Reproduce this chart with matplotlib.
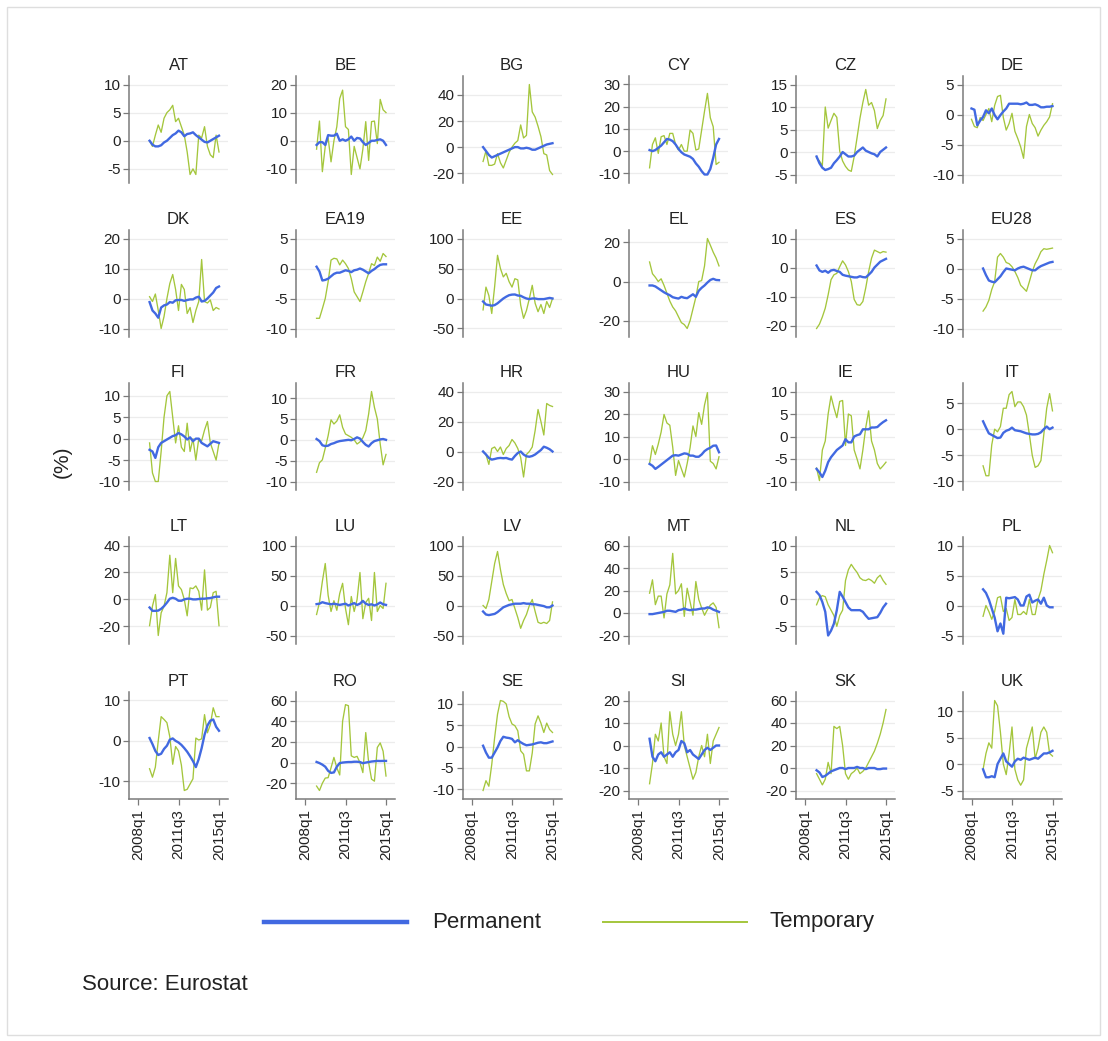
import matplotlib
matplotlib.use("Agg")
import matplotlib.pyplot as plt
from matplotlib.lines import Line2D
from matplotlib.patches import Rectangle
import numpy as np

plt.rcParams['font.family'] = ['Liberation Sans', 'DejaVu Sans']

# ---------------------------------------------------------------------------
# Year-on-year employment growth (%), permanent vs temporary contracts.
# Quarterly values, 2009q1-2015q1 (DE from 2008q1).
# ---------------------------------------------------------------------------
countries = ["AT", "BE", "BG", "CY", "CZ", "DE",
             "DK", "EA19", "EE", "EL", "ES", "EU28",
             "FI", "FR", "HR", "HU", "IE", "IT",
             "LT", "LU", "LV", "MT", "NL", "PL",
             "PT", "RO", "SE", "SI", "SK", "UK"]

x_tick_labels = ["2008q1", "2011q3", "2015q1"]

AT_perm = [0, -0.7, -1, -1, -0.8, -0.3, 0, 0.5, 1, 1.3, 1.8, 1.5, 0.8, 1.2, 1.3, 1.5, 1, 0.6, 0.2, -0.2, -0.3, 0, 0.3, 0.6, 0.9]
AT_temp = [0, -1, 1, 2.8, 1.5, 4, 5, 5.5, 6.3, 3.4, 4, 2.5, 1, -2, -6, -5, -6, 1, 0.5, 2.5, -1, -2.5, -3, 1, -2]
BE_perm = [-1.5, -0.5, -0.5, -1.5, 2, 1.8, 1.8, 2.5, 0, 0.5, 0, 0.5, 1.5, 0, 1, 0.8, -0.5, -1.5, -0.8, 0, 0, 0.3, 0.5, 0, -1.5]
BE_temp = [-3, 7, -11, -2, 1, -7.5, 0, 5, 15, 18, 5, 4, -12, -2, -6, -10, -3, 6.8, -7, 6.8, 7, -1, 14.7, 11, 10]
BG_perm = [0, -3, -6, -8, -7, -6, -5, -4, -3, -2, -1, 0, 0, -1, -1, -0.5, -1, -2, -2, -1, 0, 1, 2, 2.5, 3]
BG_temp = [-11, -3, -14, -14, -13, -5, -12, -16, -10, -4, 0, 3, 5, 17, 7, 9, 48, 27, 23, 16, 8, -5, -6, -18, -21]
CY_perm = [0.5, 0, 0.5, 1.5, 2.5, 4, 5.5, 5.2, 4.5, 3, 1, -0.5, -1.5, -2, -2.5, -3.5, -5.5, -7, -9, -10.5, -10.5, -8, -3, 3, 5.5]
CY_temp = [-7.5, 3, 6, -1, 6.5, 7, 3, 8, 8, 3, 0.5, 3, 0, 0, 9.5, 8, 0.5, 1, 9.5, 18, 26, 15, 11, -6, -5]
CZ_perm = [-1, -2.5, -3.5, -4, -3.8, -3.5, -2.5, -1.8, -1, 0, -0.5, -1, -1, -0.8, 0, 0.5, 1, 0.3, 0, -0.3, -0.5, -1, 0, 0.5, 1]
CZ_temp = [-1.3, -2, -3, 10, 5.3, 7, 8.6, 7.7, 0.2, -2, -3.2, -4, -4.3, -1, 3.2, 7.5, 11, 13.9, 10.4, 11, 9.2, 5.2, 7, 8.1, 11.8]
DE_perm = [1, 0.8, -1.8, -1, -0.4, 0.7, 0.2, 1, -0.1, -0.8, -0.1, 0.5, 1, 1.8, 1.8, 1.8, 1.8, 1.7, 1.8, 2, 1.6, 1.6, 1.7, 1.5, 1.2, 1.2, 1.3, 1.3, 1.4]
DE_temp = [-0.8, -2, -2.2, -0.5, -1, 0, 1, -1.2, 1.5, 3, 3.2, -0.5, -2.6, -1.5, 0.2, -2.8, -4, -5.4, -7.3, -2, 0, -1.5, -2.2, -3.6, -2.6, -1.8, -1.2, -0.4, 1.8]
DK_perm = [-1.2, -4, -5, -6.4, -3, -2.3, -2, -1.2, -1.4, -0.6, -0.5, -0.5, -0.8, -0.5, -0.3, -0.3, 0.3, 0.6, -1, -0.8, 0, 1, 2, 3.5, 4]
DK_temp = [0.6, -1, 1.5, -4, -10, -6, 0, 5, 8, 3, -4, 4.7, 3, -5, -3, -8, -4, -1, 13, -1, -1.5, -0.5, -4, -3, -3.5]
EA19_perm = [0.3, -0.5, -2, -1.9, -1.7, -1.3, -0.9, -0.7, -0.7, -0.5, -0.3, -0.4, -0.6, -0.3, -0.2, 0, -0.2, -0.5, -0.8, -0.4, -0.1, 0.3, 0.6, 0.7, 0.7]
EA19_temp = [-8.3, -8.3, -6.7, -5, -2.2, 1.4, 1.7, 1.6, 0.6, 1.4, 0.8, 0, -1.7, -3.9, -4.7, -5.5, -3.9, -2.2, -0.8, 0.8, 0.5, 1.9, 1.2, 2.5, 2]
EE_perm = [-5, -10, -11, -12, -11, -8, -4, 0, 3, 5.5, 6.5, 6.7, 5, 4.5, 2, 0, -1, 0, 0, -1, -1, -1, 0, 1, 0]
EE_temp = [-19, 19, 5, -25, 20, 72, 50, 36, 42, 28, 19, 33, 31, -11, -33, -20, 0, 22, -8, -22, -10, -25, -5, -15, 0]
EL_perm = [-2, -2, -2.5, -3.5, -4.5, -5.5, -6.3, -7, -8, -8.4, -8.7, -7.8, -8.3, -8.5, -7.5, -6.5, -7.8, -4.7, -3.2, -2, -0.5, 0.8, 1.4, 0.8, 0.7]
EL_temp = [10, 4, 2.2, 0, 1.4, -2, -6, -10, -13, -15, -18, -21, -22, -24, -20, -14, -8, 0, 0.5, 8, 22, 18.6, 15, 12, 8]
ES_perm = [0.7, -1, -1.5, -1.1, -1.8, -1, -0.8, -1.2, -1.5, -2.5, -2.8, -3, -3.2, -3.4, -3.4, -3, -3.3, -3.4, -2.5, -1.5, 0, 1, 2, 2.5, 3]
ES_temp = [-21, -19.5, -17, -14, -9.4, -4.2, -2.5, -2, 0.3, 2.3, 0.9, -1.4, -4.8, -11, -12.8, -13, -11.7, -7, -1.4, 3.2, 6, 5.5, 5, 5.5, 5.3]
EU28_perm = [0, -1.1, -2, -2.2, -2.3, -1.8, -1.3, -0.6, 0, -0.1, -0.2, -0.3, 0, 0.2, 0.3, 0.1, -0.1, -0.3, -0.3, 0.1, 0.4, 0.6, 0.8, 1, 1.1]
EU28_temp = [-7.1, -6.4, -5.3, -3.5, -2.2, 1.9, 2.5, 1.9, 1, 0.8, 0.3, -0.5, -1.5, -2.8, -3.3, -3.8, -2.2, -0.5, 0.8, 1.7, 2.8, 3.3, 3.2, 3.3, 3.4]
FI_perm = [-2.6, -3, -4.5, -2, -1, -0.6, -0.2, 0.2, 0.6, 0.8, 1.3, 1, 0.5, -0.2, 0.3, -0.6, 0, 0, -1, -1.4, -1.8, -1.2, -0.6, -0.8, -1]
FI_temp = [-1, -8, -10, -10, -3, 5, 10, 11, 5, -1, 3, -2, -3, 3.6, -3, 0, -5, 0, -0.5, 2, 4, -1, -3, -5, -1]
FR_perm = [0.2, -0.3, -1.3, -1.5, -1.4, -1, -0.8, -0.5, -0.3, -0.2, -0.1, 0, -0.1, 0.2, 0.6, 0.3, -0.5, -1.2, -1.6, -0.8, -0.3, -0.1, 0.1, 0.2, 0]
FR_temp = [-7.8, -5.5, -4.8, -2, 1, 4.8, 3.8, 4.5, 6, 3, 1.4, 1, 0.6, 0, -1, -0.5, 0.5, 2.2, 6.2, 11.6, 7.8, 5, -1, -6, -3.5]
HR_perm = [0, -2, -4.3, -5.4, -5, -4.5, -4.3, -4.5, -4.3, -5, -5.4, -3, -1, 0, -2, -3.2, -3.5, -3, -2, -0.5, 1, 3.2, 2.5, 1.5, 0]
HR_temp = [0, -2, -8.6, 2, 3, 0, 3, -2, 2, 4, 8, 5.7, 2, -4, -17, -2, 0, 3, 14, 28, 20, 11, 32, 30.7, 30]
HU_perm = [-2.2, -3, -4.4, -3.5, -2.5, -1.5, -0.5, 0.5, 1.5, 1.7, 1.5, 2, 2.5, 2.3, 1.5, 1.5, 1, 1, 2, 3.5, 4.4, 5, 5.9, 6, 3]
HU_temp = [-2, 5.9, 2, 6.6, 12, 19.8, 16, 15, 5.3, -7.3, -0.7, -4.4, -8, -2, 5, 14.7, 10, 20.6, 15.4, 24, 29.5, -1, -2, -4.4, 1]
IE_perm = [-7.2, -8, -9, -7.6, -5.7, -4.6, -3.8, -3, -2.5, -2, -0.6, -1.3, -1.3, 0, 0.3, 0.5, 1.6, 1.6, 1.6, 2, 2, 2.1, 2.7, 3.2, 3.6]
IE_temp = [-7, -9.8, -3, -1, 5, 9, 6.4, 4.2, 7.8, 8, -2, 5, 4.6, -3, -5, -7.2, -3, 2, 5.7, -1, -3, -6, -7.2, -6.5, -5.7]
IT_perm = [1.5, 0.3, -0.8, -1.1, -1.4, -1.7, -1.6, -0.7, -0.3, -0.1, 0.3, -0.2, -0.3, -0.4, -0.6, -0.8, -0.9, -1, -1, -0.9, -0.6, 0, 0.5, 0, 0.3]
IT_temp = [-7, -8.9, -8.9, -3, 0, -0.5, 0.5, 4, 4, 6.6, 7.2, 4.3, 5.2, 5.2, 4.3, 2.7, -1, -5, -7.3, -7, -6, -1, 4, 6.8, 3.5]
LT_perm = [-6, -8.5, -8.5, -8.3, -7, -5, -2.4, 0.5, 1.2, 0.5, -1, -1, 0, 0.5, 0.5, 0, 0, 0.3, 0.5, 0.5, 0.8, 1, 1.5, 2, 2]
LT_temp = [-19.5, -5, 3.6, -26.8, -10, -5, 5, 32.8, 5, 30.4, 10, 7.3, 0, -12.2, 8.5, 8, 10, 6, -8, 21.9, -8, -6, 5, 6, -19.5]
LU_perm = [2.3, 3, 5.5, 4, 3, 2, 3, 2, 1, 2, 3, 0, 2, 4, 1, 3, 7.7, 3, 1, 2, 0, 2, 5, 2, 1]
LU_temp = [-15, 5, 40, 70, 17, -10, 8, -8, 20, 37, -5, -32, 15, -10, 10, 55, -22, 5, 12, -25, 55, -10, 0, -5, 37]
LV_perm = [-10, -15, -16, -15, -14, -11, -7, -3, -1, 1, 2, 3, 3, 3, 4, 3, 3, 2, 2, 1, 0, -1, -3, -3, 0]
LV_temp = [0, -5, 10, 40, 70, 90, 60, 35, 20, 8, 10, -5, -20, -38, -25, -15, 0, 10, -10, -28, -30, -28, -30, -25, 6]
MT_perm = [-1, -1, -0.5, 0, 0.5, 1, 2, 2, 1.5, 1, 2.5, 3, 4, 3, 2.5, 3, 3, 3.5, 4, 4, 5, 4.5, 3, 2, 1]
MT_temp = [17.6, 29.5, 7.4, 15, 15, -4.4, 17, 25, 53, 17, 20, 26, -3, 22, 10, -2, 28, 12, 4.5, -2, 3, 7, 9, 5, -13]
NL_perm = [1.4, 0.8, -0.5, -2.3, -6.7, -5.8, -4.5, -2, 1.4, 0.5, -0.5, -1.5, -2, -2, -2, -2, -2.3, -3, -3.6, -3.5, -3.4, -3.3, -2.5, -1.5, -0.8]
NL_temp = [-1, 0.3, 0.7, 0.5, -1, -2, -3, -5, -3, -2, 3.5, 5.5, 6.5, 5.7, 5, 4, 3.6, 3.5, 3.8, 3.5, 3, 4, 4.5, 3.5, 2.8]
PL_perm = [2.7, 2.1, 1, -0.5, -2, -4.3, -3, -4.7, 1.3, 1.2, 1.3, 1.4, 1, 0, 0, 1.5, 1.8, 0.5, 0.8, 1, 0.3, 1.3, 0, -0.3, -0.3]
PL_temp = [-1.8, 0, -1, -2.3, -1, 1.3, 1.5, -1, -0.5, -2.5, -2, 1, -1.5, -1.5, -1, -1.5, 1, -1.5, -1.5, 1, 2.5, 5.2, 7.5, 10, 8.8]
PT_perm = [0.7, -0.8, -2.5, -3.5, -3.2, -2, -1.2, 0.3, 0.6, 0, -0.4, -1, -1.8, -2.7, -3.8, -5, -6.5, -4.5, -1.8, 1.5, 3.8, 5, 5.3, 3.5, 2.5]
PT_temp = [-6.9, -9, -6.5, 0, 6, 5.3, 4.5, 1, -5.8, -1.4, -2.5, -6, -12.3, -12, -10.7, -9.4, 0.7, 0.2, 0.5, 6.5, 2, 4, 8.2, 6, 6]
RO_perm = [0.6, -0.5, -2, -4, -8, -10, -9.5, -4, -0.5, 0, 0.3, 0.5, 0.5, 0.8, 0.8, 0.5, -0.6, 0, 0.5, 1, 1.3, 1.6, 1.5, 1.6, 1.6]
RO_temp = [-22.7, -27, -20, -15, -14.6, -5, 5, -5, -12, 40, 56, 55, 6.5, 5, 6, 0, -9.7, 29, 0, -16, -18, 14.6, 19, 11, -13]
SE_perm = [0.2, -1.4, -2.6, -2.6, -1.4, -0.2, 1.3, 2.3, 2.1, 2, 1.8, 1, 1.5, 1, 0.6, 0.3, 0.4, 0.5, 0.7, 0.9, 1, 0.8, 0.8, 1, 1.2]
SE_temp = [-10.3, -8, -9.3, -4.2, 2.1, 7.6, 10.8, 10.6, 10, 7, 5.3, 4.9, 3.7, -1, -1.8, -5.7, -5.7, -1.5, 5.3, 7.2, 5.5, 3.3, 5.5, 4, 3.3]
SI_perm = [3, -5, -7, -4, -3, -5, -4, -3, -5, -3, -2, 2, 1, -3, -2, -4, -5, -6, -4, -2, -1, -2, -1, 0, 0]
SI_temp = [-17, -8, 5, 2, 10, -5, -8, 15, 5, 0, 5, 15, 0, -5, -10, -15, -12, -5, 0, -5, 5, -8, 2, 5, 8]
SK_perm = [-2, -4, -8, -7, -5, -3, -2, -1, 0, 0, -1, 0, 0, 0, 1, 0, 0, -1, 0, 0, 0, -1, -1, -0.5, -0.5]
SK_temp = [-5, -10, -15, -10, 5, -5, 37, 35, 37, 20, -5, -10, -5, -3, 0, -5, -3, 0, 5, 10, 15, 22, 30, 40, 52]
UK_perm = [-1, -2.5, -2.5, -2.3, -2.5, 0, 1, 2, 0.5, 0, -0.5, 0.5, 1, 0.8, 1.2, 1, 0.8, 1, 1.2, 1, 1.5, 2, 2, 2.2, 2.5]
UK_temp = [-1, 2, 4, 3, 12, 11, 6, 0, -2, 2, 7, -1, -3, -4, -3, 3, 5, 7, 1, 3, 6, 7, 6, 2, 1.5]

# y-axis tick values for each panel
AT_yticks = [-5, 0, 5, 10]
BE_yticks = [-10, 0, 10, 20]
BG_yticks = [-20, 0, 20, 40]
CY_yticks = [-10, 0, 10, 20, 30]
CZ_yticks = [-5, 0, 5, 10, 15]
DE_yticks = [-10, -5, 0, 5]
DK_yticks = [-10, 0, 10, 20]
EA19_yticks = [-10, -5, 0, 5]
EE_yticks = [-50, 0, 50, 100]
EL_yticks = [-20, 0, 20]
ES_yticks = [-20, -10, 0, 10]
EU28_yticks = [-10, -5, 0, 5]
FI_yticks = [-10, -5, 0, 5, 10]
FR_yticks = [-10, -5, 0, 5, 10]
HR_yticks = [-20, 0, 20, 40]
HU_yticks = [-10, 0, 10, 20, 30]
IE_yticks = [-10, -5, 0, 5, 10]
IT_yticks = [-10, -5, 0, 5]
LT_yticks = [-20, 0, 20, 40]
LU_yticks = [-50, 0, 50, 100]
LV_yticks = [-50, 0, 50, 100]
MT_yticks = [-20, 0, 20, 40, 60]
NL_yticks = [-5, 0, 5, 10]
PL_yticks = [-5, 0, 5, 10]
PT_yticks = [-10, 0, 10]
RO_yticks = [-20, 0, 20, 40, 60]
SE_yticks = [-10, -5, 0, 5, 10]
SI_yticks = [-20, -10, 0, 10, 20]
SK_yticks = [-20, 0, 20, 40, 60]
UK_yticks = [-5, 0, 5, 10]

# first observation: 2009q1 for all but DE (2008q1)
DE_start = "2008q1"
default_start = "2009q1"


def quarter_index(label):
    """Quarters elapsed since 2008q1."""
    year, q = label.split("q")
    return (int(year) - 2008) * 4 + int(q) - 1


panels = []
for name in countries:
    g = globals()
    start = DE_start if name == "DE" else default_start
    panels.append((name, g[name + "_perm"], g[name + "_temp"],
                   g[name + "_yticks"], quarter_index(start)))

# ---------------------------------------------------------------------------
W, H = 1108, 1041
fig = plt.figure(figsize=(W / 100, H / 100), dpi=100)
fig.patch.set_facecolor("white")


def fx(x):
    return x / W


def fy(y):
    return 1 - y / H


BLUE = "#4169e1"
GREEN = "#a4c63c"
AXCOL = "#7a7a7a"
GRIDCOL = "#ececec"

col_left = [129, 296, 462.5, 629, 796, 962.5]
row_top = [76, 230, 383, 537, 692]
PW, PH = 99, 107
YPAD = 8.5 / PH
XPAD = 9.0 / PW

xt = [quarter_index(s) for s in x_tick_labels]
xspan = xt[-1] - xt[0]
xpad = xspan * XPAD / (1 - 2 * XPAD)

for i, (name, perm, temp, yt, start) in enumerate(panels):
    r, c = divmod(i, 6)
    ax = fig.add_axes([fx(col_left[c]), fy(row_top[r] + PH), PW / W, PH / H])
    perm = np.asarray(perm, float)
    temp = np.asarray(temp, float)
    t = start + np.arange(len(perm))

    ax.plot(t, temp, color=GREEN, lw=0.95, zorder=3, solid_joinstyle="round")
    ax.plot(t, perm, color=BLUE, lw=1.7, zorder=4, solid_joinstyle="round")

    lo = min(yt[0], perm.min(), temp.min())
    hi = max(yt[-1], perm.max(), temp.max())
    span = hi - lo
    p = span * YPAD / (1 - 2 * YPAD)
    ax.set_ylim(lo - p, hi + p)
    ax.set_xlim(xt[0] - xpad, xt[-1] + xpad)

    ax.set_yticks(yt)
    ax.set_yticklabels([str(v) for v in yt])
    ax.grid(axis="y", color=GRIDCOL, lw=0.9, zorder=0)
    ax.set_axisbelow(True)
    ax.tick_params(axis="y", length=4, width=0.9, color=AXCOL, pad=2,
                   labelsize=11, labelcolor="#222222")

    for s in ("top", "right"):
        ax.spines[s].set_visible(False)
    ax.spines["left"].set_color(AXCOL)
    ax.spines["left"].set_linewidth(1.1)

    if r == 4:
        ax.set_xticks(xt)
        ax.set_xticklabels(x_tick_labels, rotation=90)
        ax.tick_params(axis="x", length=4, width=0.9, color=AXCOL, pad=3,
                       labelsize=11, labelcolor="#222222")
        ax.spines["bottom"].set_color(AXCOL)
        ax.spines["bottom"].set_linewidth(1.1)
    else:
        ax.set_xticks([])
        ax.spines["bottom"].set_visible(False)

    ax.set_title(name, fontsize=12, color="#222222", pad=4)
    ax.set_facecolor("white")

# common y label
fig.text(fx(62), fy(462), "(%)", rotation=90, ha="center", va="center",
         fontsize=15, color="#222222")

# legend
ly = fy(922)
fig.add_artist(Line2D([fx(264), fx(407)], [ly, ly], color=BLUE, lw=3.2))
fig.text(fx(432), ly, "Permanent", ha="left", va="center", fontsize=16, color="#222222")
fig.add_artist(Line2D([fx(603), fx(747)], [ly, ly], color=GREEN, lw=1.4))
fig.text(fx(770), ly, "Temporary", ha="left", va="center", fontsize=16, color="#222222")

# source note
fig.text(fx(82), fy(985), "Source: Eurostat", ha="left", va="center",
         fontsize=16, color="#222222")

# outer frame
fig.add_artist(Rectangle((fx(7), fy(1035)), fx(1100) - fx(7), fy(7) - fy(1035),
                         fill=False, edgecolor="#dedede", lw=1.0))

fig.savefig("out.png", dpi=100, facecolor="white")
